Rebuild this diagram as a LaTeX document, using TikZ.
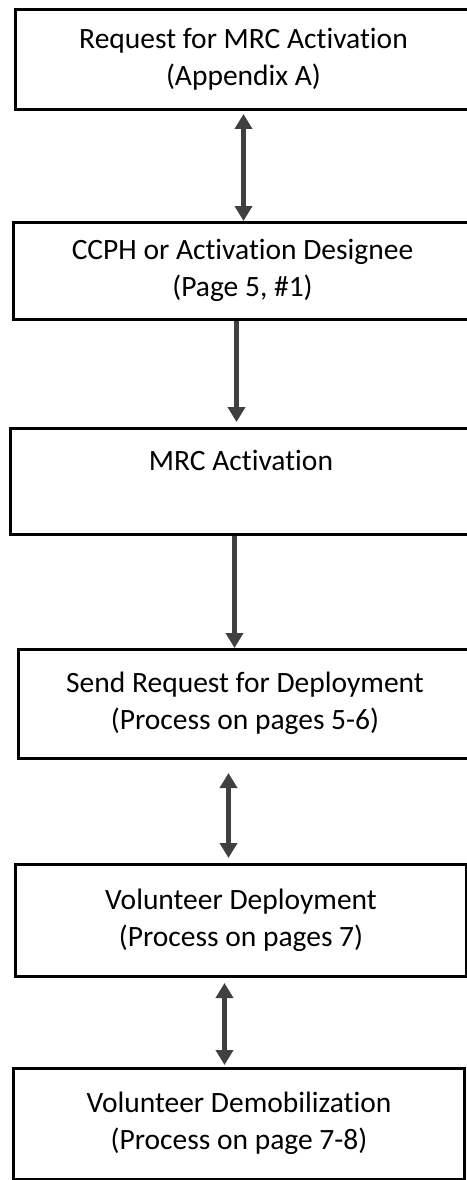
\documentclass[tikz,border=0pt]{standalone}
\usepackage{fontspec}
\setmainfont{Carlito}[Ligatures={NoCommon,NoContextual}]
\usetikzlibrary{arrows.meta,calc}
\begin{document}
\begin{tikzpicture}[x=1pt,y=-1pt,
  box/.style={draw=black,line width=3pt,rectangle,anchor=north west,inner sep=0pt,
    align=center,font=\fontsize{29.5}{37}\selectfont},
  conn/.style={draw=black!75,line width=4.5pt},
  tip/.style={-{Triangle[width=17pt,length=15pt]}},
  dtip/.style={{Triangle[width=17pt,length=15pt]}-{Triangle[width=17pt,length=15pt]}}]
\useasboundingbox[fill=white] (0,0) rectangle (466,1180);
\node[box,minimum width=456pt,minimum height=100pt] (a) at (14,8)
  {\strut Request for MRC Activation\\\strut(Appendix A)};
\node[box,minimum width=458pt,minimum height=97pt] (b) at (12,221)
  {\strut CCPH or Activation Designee\\\strut(Page 5, \#1)};
\node[box,minimum width=461pt,minimum height=106pt] (c) at (9,427)
  {\strut MRC Activation\\\strut};
\node[box,minimum width=453pt,minimum height=109pt] (d) at (17,648)
  {\strut Send Request for Deployment\\\strut(Process on pages 5-6)};
\node[box,minimum width=451pt,minimum height=112pt] (e) at (14,863)
  {\strut Volunteer Deployment\\\strut(Process on pages 7)};
\node[box,minimum width=451pt,minimum height=111pt] (f) at (12,1067)
  {\strut Volunteer Demobilization\\\strut(Process on page 7-8)};
\draw[conn,dtip,shorten <=3pt] (a.south) -- (a.south |- b.north);
\draw[conn,tip,shorten >=5pt] ([xshift=-6pt]b.south) -- ([xshift=-6pt]b.south |- c.north);
\draw[conn,tip] ([xshift=-6.5pt]c.south) -- ([xshift=-6.5pt]c.south |- d.north);
\draw[conn,dtip,shorten <=13pt,shorten >=5pt] ([xshift=-16.5pt]d.south) -- ([xshift=-16.5pt]d.south |- e.north);
\draw[conn,dtip,shorten <=5pt,shorten >=2pt] ([xshift=-16.5pt]e.south) -- ([xshift=-16.5pt]e.south |- f.north);
\end{tikzpicture}
\end{document}
